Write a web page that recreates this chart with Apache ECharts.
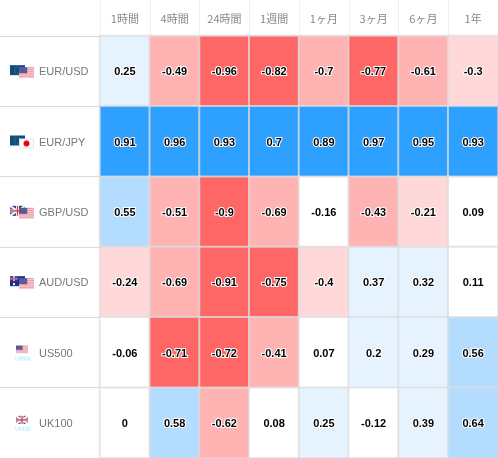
<!DOCTYPE html>
<html><head><meta charset="utf-8">
<style>html,body{margin:0;padding:0;background:#fff}#c{width:498px;height:458px}</style>
<script src="https://cdn.jsdelivr.net/npm/echarts@6/dist/echarts.min.js"></script>
</head><body><div id="c"></div>
<script>
const periods = ['1時間','4時間','24時間','1週間','1ヶ月','3ヶ月','6ヶ月','1年'];
const symbols = ['EUR/USD','EUR/JPY','GBP/USD','AUD/USD','US500','UK100'];
const eurUsd = [0.25,-0.49,-0.96,-0.82,-0.7,-0.77,-0.61,-0.3];
const eurJpy = [0.91,0.96,0.93,0.7,0.89,0.97,0.95,0.93];
const gbpUsd = [0.55,-0.51,-0.9,-0.69,-0.16,-0.43,-0.21,0.09];
const audUsd = [-0.24,-0.69,-0.91,-0.75,-0.4,0.37,0.32,0.11];
const us500  = [-0.06,-0.71,-0.72,-0.41,0.07,0.2,0.29,0.56];
const uk100  = [0,0.58,-0.62,0.08,0.25,-0.12,0.39,0.64];
const rows = [eurUsd,eurJpy,gbpUsd,audUsd,us500,uk100];

const pieces = [
  {lt:-0.7,color:'#ff6666'},
  {gte:-0.7,lt:-0.4,color:'#ffb3b3'},
  {gte:-0.4,lt:-0.2,color:'#ffd9d9'},
  {gte:-0.2,lt:0.2,color:'#ffffff'},
  {gte:0.2,lt:0.5,color:'#e6f3ff'},
  {gte:0.5,lt:0.7,color:'#b3dcff'},
  {gte:0.7,color:'#2ea0ff'}
];

// Small decorative flag icons
function eu(g,x,y){g.fillStyle='#0f4c81';g.fillRect(x,y,15,10);
  g.fillStyle='#5c8a4a';for(let i=0;i<8;i++){const a=i*Math.PI/4;g.fillRect(x+7+Math.cos(a)*3,y+4.5+Math.sin(a)*3,1,1);}}
function us(g,x,y,w,h){g.fillStyle='#fff';g.fillRect(x,y,w,h);
  g.fillStyle='#e8909a';const n=Math.round(h/2);for(let i=0;i<n;i++)g.fillRect(x,y+i*h/n,w,h/n/2+0.3);
  g.fillStyle='#5a5a96';g.fillRect(x,y,w*0.55,h*0.55);}
function gb(g,x,y,w,h){g.fillStyle='#2a3f8f';g.fillRect(x,y,w,h);
  g.strokeStyle='#fff';g.lineWidth=2;g.beginPath();g.moveTo(x,y);g.lineTo(x+w,y+h);g.moveTo(x+w,y);g.lineTo(x,y+h);g.stroke();
  g.lineWidth=3;g.beginPath();g.moveTo(x+w/2,y);g.lineTo(x+w/2,y+h);g.moveTo(x,y+h/2);g.lineTo(x+w,y+h/2);g.stroke();
  g.strokeStyle='#e0394a';g.lineWidth=1.3;g.beginPath();g.moveTo(x+w/2,y);g.lineTo(x+w/2,y+h);g.moveTo(x,y+h/2);g.lineTo(x+w,y+h/2);g.stroke();}
function au(g,x,y){g.fillStyle='#1c2f8c';g.fillRect(x,y,15,10);
  g.strokeStyle='#fff';g.lineWidth=1.6;g.beginPath();g.moveTo(x+4,y);g.lineTo(x+4,y+5);g.moveTo(x,y+2.5);g.lineTo(x+8,y+2.5);g.stroke();
  g.strokeStyle='#d8324a';g.lineWidth=0.8;g.beginPath();g.moveTo(x+4,y);g.lineTo(x+4,y+5);g.moveTo(x,y+2.5);g.lineTo(x+8,y+2.5);g.stroke();
  g.fillStyle='#fff';g.fillRect(x+3,y+7,2,2);g.fillRect(x+11,y+2,1,1);g.fillRect(x+12,y+5,1,1);g.fillRect(x+10,y+7,1,1);}
function jp(g,x,y){g.fillStyle='#fff';g.fillRect(x,y,15,10);g.strokeStyle='#e6e6e6';g.lineWidth=1;g.strokeRect(x+.5,y+.5,14,9);
  g.fillStyle='#e8000f';g.beginPath();g.arc(x+7.5,y+5,3,0,7);g.fill();}
function idx(g,name,draw){draw();g.fillStyle='#9fe3ff';g.font='5px "Liberation Sans"';g.textAlign='center';g.textBaseline='top';g.fillText(name,13,11);}
function flag(name){
  const c=document.createElement('canvas');c.width=29;c.height=16;const g=c.getContext('2d');
  if(name==='EUR/USD'){eu(g,0,1);us(g,9,3,15,11);}
  if(name==='EUR/JPY'){eu(g,0,1);jp(g,9,4);}
  if(name==='GBP/USD'){gb(g,0,1,15,10);us(g,9,3,15,11);}
  if(name==='AUD/USD'){au(g,0,1);us(g,9,3,15,11);}
  if(name==='US500')idx(g,name,()=>us(g,6,0,12,8));
  if(name==='UK100')idx(g,name,()=>gb(g,6,0,12,8));
  return c;
}
const rich={t:{color:'#777',fontSize:11,fontFamily:'"Liberation Sans",Arial,sans-serif',padding:[0,0,0,0]}};
symbols.forEach((s,i)=>{rich['f'+i]={width:29,height:16,backgroundColor:{image:flag(s)}};});

const data=[];
rows.forEach((r,y)=>r.forEach((v,x)=>data.push([x,y,v])));

const chart=echarts.init(document.getElementById('c'),null,{renderer:'canvas'});
chart.setOption({
  animation:false,
  grid:{left:100,right:0,top:36,bottom:-1},
  xAxis:{type:'category',position:'top',data:periods,
    axisLine:{show:true,lineStyle:{color:'#d9d9d9',width:1}},
    axisTick:{show:true,length:36,inside:false,alignWithLabel:false,lineStyle:{color:'#f0f0f0',width:1}},
    axisLabel:{color:'#888',fontSize:11,margin:12,interval:0,fontFamily:'"Noto Sans CJK JP",sans-serif'},
    splitLine:{show:false}},
  yAxis:{type:'category',inverse:true,data:symbols,
    axisLine:{show:false},
    axisTick:{show:true,length:100,lineStyle:{color:'#d9d9d9',width:1}},
    axisLabel:{interval:0,margin:90,align:'left',rich:rich,padding:[2,0,0,0],
      formatter:(v,i)=>`{f${i}|}{t|${v}}`},
    splitLine:{show:false}},
  visualMap:{show:false,type:'piecewise',dimension:2,pieces:pieces,seriesIndex:0},
  series:[{type:'heatmap',data:data,
    itemStyle:{borderColor:'rgba(220,220,220,0.72)',borderWidth:2},
    label:{show:true,offset:[0,1],formatter:p=>String(p.value[2]),color:'#000',fontSize:11,fontWeight:'bold',
      fontFamily:'"Liberation Sans",Arial,sans-serif',textBorderColor:'#fff',textBorderWidth:2},
    emphasis:{disabled:true}}]
});
</script></body></html>
